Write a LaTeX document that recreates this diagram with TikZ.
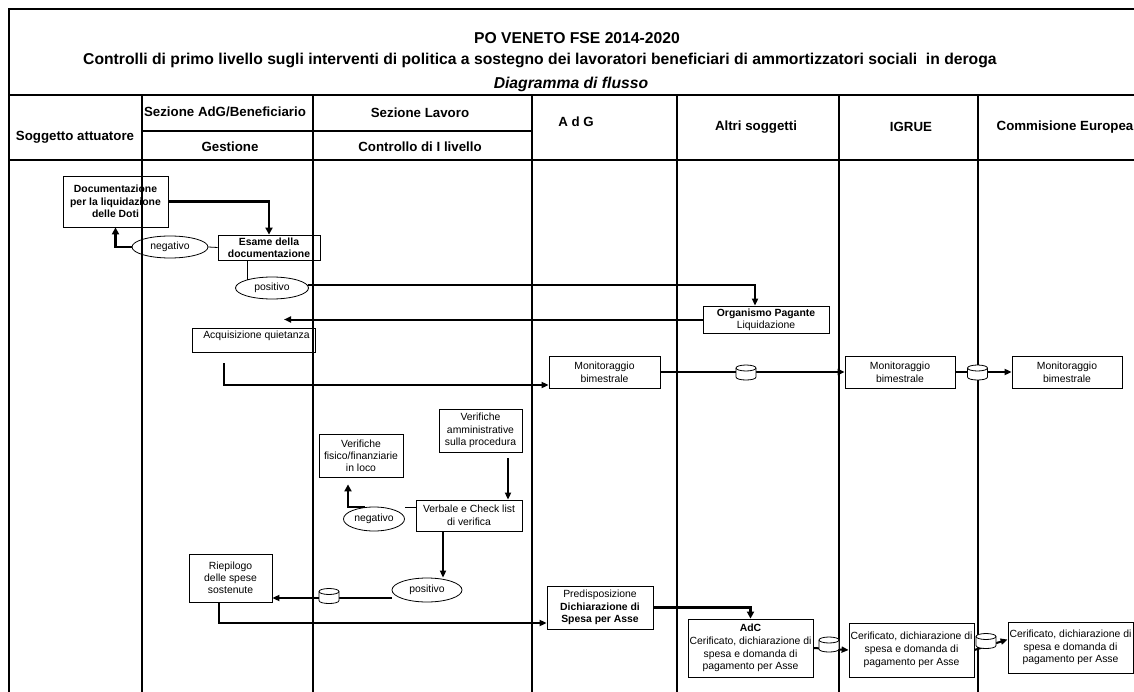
\documentclass[tikz,border=0pt]{standalone}
\usepackage{fontspec}
\setmainfont{Liberation Sans}
\usetikzlibrary{arrows.meta,shapes.geometric,calc}
\begin{document}
\begin{tikzpicture}[x=1pt,y=-1pt,
  grid/.style={line width=2.8pt},
  frame/.style={line width=1.8pt},
  box/.style={draw, line width=0.8pt, align=center, inner sep=1pt, font=\fontsize{10.4}{12.8}\selectfont},
  bbox/.style={box, font=\bfseries\fontsize{10.4}{12.4}\selectfont},
  oval/.style={ellipse, draw, line width=0.8pt, inner sep=0pt, font=\fontsize{10.4}{12.4}\selectfont},
  store/.style={inner sep=0pt, minimum width=20pt, minimum height=15pt},
  arr/.style={line width=2pt, -{Triangle[length=7pt,width=6pt]}},
  arrb/.style={line width=2.5pt, -{Triangle[length=7pt,width=7pt]}},
  link/.style={line width=0.8pt},
  hdr/.style={font=\bfseries\fontsize{13.3}{15}\selectfont, align=center, inner sep=0pt},
  ttl/.style={font=\bfseries\fontsize{15.7}{18}\selectfont, inner sep=0pt},
  pics/dbstore/.style={code={
    \fill[white] (-10,-4.5) -- (-10,4.5) .. controls (-10,8.5) and (10,8.5) .. (10,4.5) -- (10,-4.5) .. controls (10,-8.5) and (-10,-8.5) .. (-10,-4.5);
    \draw[line width=0.8pt] (0,-4.5) ellipse [x radius=10, y radius=3];
    \draw[line width=0.8pt] (-10,-4.5) -- (-10,4.5) .. controls (-10,8.5) and (10,8.5) .. (10,4.5) -- (10,-4.5);
  }}
]
\useasboundingbox (0,0) rectangle (1134,692);
\fill[white] (0,0) rectangle (1134,692);

% frame and grid
\draw[frame] (8.7,692) -- (8.7,9) -- (1140,9);
\draw[grid] (8.7,95) -- (1140,95);
\draw[grid] (8.7,160) -- (1140,160);
\draw[grid] (142,131) -- (532,131);
\foreach \x in {142,313,532,677,839,978} \draw[grid] (\x,95) -- (\x,695);

% title
\node[ttl] (t1) at (577,38) {PO VENETO FSE 2014-2020};
\node[ttl, anchor=west] (t2) at (83,60) {Controlli di primo livello sugli interventi di politica a sostegno dei lavoratori beneficiari di ammortizzatori sociali~ in deroga};
\node[ttl, font=\bfseries\itshape\fontsize{15.7}{18}\selectfont] (t3) at (571,84) {Diagramma di flusso};

% headers
\node[hdr] (h1) at (75,137) {Soggetto attuatore};
\node[hdr] (h2) at (225,112) {Sezione AdG/Beneficiario};
\node[hdr] (h3) at (230,147) {Gestione};
\node[hdr] (h4) at (420,113) {Sezione Lavoro};
\node[hdr] (h5) at (420,147) {Controllo di I livello};
\node[hdr] (h6) at (576,122) {A d G};
\node[hdr] (h7) at (756,127) {Altri soggetti};
\node[hdr] (h8) at (911,127) {IGRUE};
\node[hdr] (h9) at (1065,127) {Commisione Europea};

% nodes
\node[bbox, minimum width=105, minimum height=51] (doc) at (115.5,201.5) {Documentazione\\per la liquidazione\\delle Doti};
\node[bbox, minimum width=102, minimum height=25] (esame) at (269,247.5) {Esame della\\documentazione};
\node[oval, minimum width=76, minimum height=22] (neg1) at (170,247) {negativo};
\node[oval, minimum width=73, minimum height=22] (pos1) at (272,288) {positivo};
\node[box, minimum width=126, minimum height=27, font=\fontsize{10.4}{12}\selectfont] (org) at (766,319.5) {\textbf{Organismo Pagante}\\Liquidazione};
\node[box, minimum width=123, minimum height=24,
  label={[font=\fontsize{10.4}{12.4}\selectfont, anchor=north, inner sep=1pt, xshift=3pt, yshift=-2pt]north:Acquisizione quietanza}] (acq) at (253.5,340) {};
\node[box, minimum width=111, minimum height=32] (mon1) at (604.5,372) {Monitoraggio\\bimestrale};
\node[box, minimum width=110, minimum height=32] (mon2) at (900,372) {Monitoraggio\\bimestrale};
\node[box, minimum width=110, minimum height=32] (mon3) at (1067,372) {Monitoraggio\\bimestrale};
\node[box, minimum width=83, minimum height=43, font=\fontsize{10.4}{12.2}\selectfont] (amm) at (480.5,430.5) {Verifiche\\amministrative\\sulla procedura};
\node[box, minimum width=84, minimum height=43, font=\fontsize{10.4}{12.2}\selectfont] (fis) at (361,455.5) {Verifiche\\fisico/finanziarie\\in loco};
\node[box, minimum width=106, minimum height=31] (verb) at (469,515.5) {Verbale e Check list\\di verifica};
\node[oval, minimum width=61, minimum height=24] (neg2) at (374,519) {negativo};
\node[oval, minimum width=70, minimum height=24] (pos2) at (427,590) {positivo};
\node[box, minimum width=83, minimum height=48, font=\fontsize{10.4}{12}\selectfont] (riep) at (230.5,578) {Riepilogo\\delle spese\\sostenute};
\node[box, minimum width=106, minimum height=43, font=\fontsize{10.4}{12.4}\selectfont] (pred) at (600,607.5) {Predisposizione\\\textbf{Dichiarazione di}\\\textbf{Spesa per Asse}};
\node[box, minimum width=125, minimum height=58] (adc) at (750.5,648) {\textbf{AdC}\\Cerificato, dichiarazione di\\spesa e domanda di\\pagamento per Asse};
\node[box, minimum width=125, minimum height=54] (cert2) at (911.5,650) {Cerificato, dichiarazione di\\spesa e domanda di\\pagamento per Asse};
\node[box, minimum width=125, minimum height=51] (cert3) at (1070.5,647.5) {Cerificato, dichiarazione di\\spesa e domanda di\\pagamento per Asse};

% data store positions
\node[store] (cyl1) at (746,372.5) {};
\node[store] (cyl2) at (977.5,372.5) {};
\node[store] (cyl3) at (329,596) {};
\node[store] (cyl4) at (829,644.5) {};
\node[store] (cyl5) at (986,641) {};

% connectors
\draw[arrb] (doc.east) -| (esame.north);
\draw[arrb] (neg1.west) -| (doc.south);
\draw[link] (esame.west) -- (neg1.east);
\draw[link] (esame.south -| pos1.161) -- (pos1.161);
\draw[arr] (pos1.5) -| ([xshift=-11pt]org.north);
\coordinate (acqin) at (284,319.5);
\draw[arr] (org.west) -- (acqin);
\coordinate (acqout) at (224,363);
\coordinate (mon1in) at ($(mon1.west)+(0,13)$);
\draw[arr] (acqout) |- (mon1in);
\draw[arr] (mon1.east) -- (mon2.west);
\draw[arr] (mon2.east) -- (mon3.west);
\coordinate (ammout) at (508,458);
\draw[arr] (ammout) -- (ammout |- verb.north);
\coordinate (verbw) at ($(verb.west)+(0,-8.5)$);
\draw[link] (verbw) -- (verbw -| neg2.east);
\draw[arrb, shorten >=7pt] (neg2.127) -| ([xshift=-13pt]fis.south);
\coordinate (verbs) at ([xshift=-26pt]verb.south);
\draw[arr] (verbs) -- (verbs |- pos2.north);
\coordinate (p2w) at ($(pos2.west)+(0,8)$);
\draw[arr] (p2w) -- (p2w -| riep.east);
\coordinate (riepout) at ([xshift=-11.5pt]riep.south);
\coordinate (predin) at ($(pred.west)+(0,15.5)$);
\draw[arr] (riepout) |- (predin);
\draw[arrb] (pred.east) -| (adc.north);
\draw[arr] (adc.east) -- (cert2.west);
\coordinate (c3in) at ($(cert3.west)+(0,-8)$);
\draw[arr] (cert2.east) -- (c3in);

% data stores (cylinders)
\foreach \c in {cyl1,cyl2,cyl3,cyl4,cyl5} \pic at (\c) {dbstore};
\end{tikzpicture}
\end{document}
